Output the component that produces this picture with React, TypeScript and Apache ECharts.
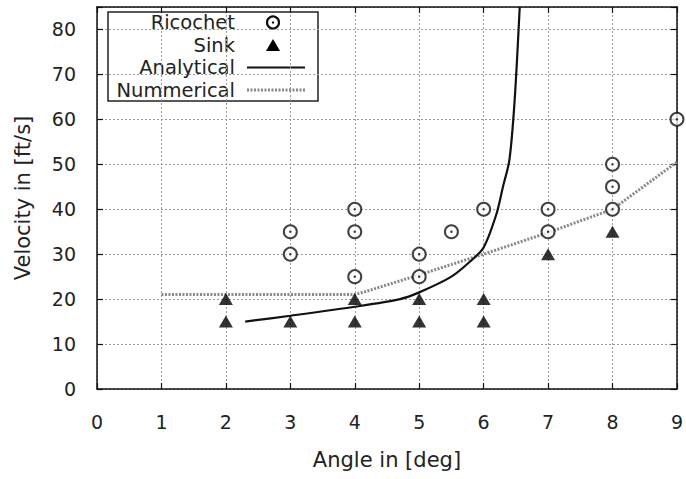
import React, { useEffect, useRef } from "react";
import * as echarts from "echarts";

const ricochetAngle = [3, 3, 4, 4, 4, 5, 5, 5.5, 6, 7, 7, 8, 8, 8, 9];
const ricochetVel = [35, 30, 40, 35, 25, 30, 25, 35, 40, 40, 35, 50, 45, 40, 60];
const sinkAngle = [2, 2, 3, 4, 4, 5, 5, 6, 6, 7, 8];
const sinkVel = [20, 15, 15, 20, 15, 20, 15, 20, 15, 30, 35];
const analyticalAngle = [2.3, 3, 4, 4.7, 5, 5.5, 5.8, 6, 6.2, 6.3, 6.4, 6.48, 6.56];
const analyticalVel = [15, 16.3, 18.3, 20, 21.5, 25, 28.5, 31.5, 39, 45, 51, 64, 85];
const numericalAngle = [1, 4, 4.15, 5, 6, 7, 8, 9];
const numericalVel = [21, 21, 21.6, 25.4, 30, 34.8, 40, 50.5];
const xTicks = [0, 1, 2, 3, 4, 5, 6, 7, 8, 9];
const yTicks = [0, 10, 20, 30, 40, 50, 60, 70, 80];
const legendNames = ["Ricochet", "Sink", "Analytical", "Nummerical"];

const FONT = "DejaVu Sans";

export default function App() {
  const ref = useRef<HTMLDivElement>(null);
  useEffect(() => {
    if (!ref.current) return;
    const chart = echarts.init(ref.current, null, { renderer: "svg" });
    const zip = (a: number[], b: number[]) => a.map((v, i) => [v, b[i]]);
    const axisCommon = {
      type: "value" as const,
      axisLine: { show: true, onZero: false, lineStyle: { color: "#111", width: 1.5 } },
      axisTick: { show: true, inside: true, length: 6, lineStyle: { color: "#111", width: 1.2 } },
    };
    const lx = 108, ly = 12;
    const rows = [22.5, 45, 67.5, 90];
    chart.setOption({
      animation: false,
      backgroundColor: "#fff",
      grid: { left: 97, right: 8, top: 7, bottom: 90, show: false },
      xAxis: [
        {
          ...axisCommon,
          position: "bottom",
          min: xTicks[0],
          max: xTicks[xTicks.length - 1],
          interval: 1,
          name: "Angle in [deg]",
          nameLocation: "middle",
          nameGap: 60,
          nameTextStyle: { fontFamily: FONT, fontSize: 21, color: "#222" },
          axisLabel: { fontFamily: FONT, fontSize: 19, color: "#222", margin: 23 },
          splitLine: { show: true, lineStyle: { color: "#999", type: [2, 2], width: 1 } },
        },
        {
          ...axisCommon,
          position: "top",
          min: xTicks[0],
          max: xTicks[xTicks.length - 1],
          interval: 1,
          axisLabel: { show: false },
          splitLine: { show: false },
        },
      ],
      yAxis: [
        {
          ...axisCommon,
          position: "left",
          min: yTicks[0],
          max: 85,
          interval: 10,
          name: "Velocity in [ft/s]",
          nameLocation: "middle",
          nameGap: 64,
          nameTextStyle: { fontFamily: FONT, fontSize: 21, color: "#222" },
          axisLabel: {
            fontFamily: FONT,
            fontSize: 19,
            color: "#222",
            margin: 21,
            formatter: (v: number) => (yTicks.includes(v) ? String(v) : ""),
          },
          splitLine: { show: true, lineStyle: { color: "#999", type: [2, 2], width: 1 } },
        },
        {
          ...axisCommon,
          position: "right",
          min: yTicks[0],
          max: 85,
          interval: 10,
          axisLabel: { show: false },
          splitLine: { show: false },
        },
      ],
      series: [
        {
          name: legendNames[3],
          type: "line",
          data: zip(numericalAngle, numericalVel),
          showSymbol: false,
          lineStyle: { color: "#888", width: 3, type: [2, 1.5] },
          z: 2,
        },
        {
          name: legendNames[2],
          type: "line",
          data: zip(analyticalAngle, analyticalVel),
          showSymbol: false,
          smooth: 0.3,
          lineStyle: { color: "#111", width: 2.2 },
          z: 3,
        },
        {
          name: legendNames[0],
          type: "scatter",
          data: zip(ricochetAngle, ricochetVel),
          symbol: "emptyCircle",
          symbolSize: 13,
          itemStyle: { color: "#111", borderColor: "#111", borderWidth: 2.2 },
          z: 4,
        },
        {
          name: legendNames[0] + " centre",
          type: "scatter",
          data: zip(ricochetAngle, ricochetVel),
          symbol: "circle",
          symbolSize: 2.5,
          itemStyle: { color: "#111" },
          z: 5,
        },
        {
          name: legendNames[1],
          type: "scatter",
          data: zip(sinkAngle, sinkVel),
          symbol: "triangle",
          symbolSize: [14, 12],
          itemStyle: { color: "#000" },
          z: 4,
        },
      ],
      graphic: [
        {
          type: "group",
          z: 100,
          children: [
            {
              type: "rect",
              shape: { x: lx, y: ly, width: 210, height: 89 },
              style: { fill: "#fff", stroke: "#222", lineWidth: 1.5 },
            },
            ...legendNames.map((n, i) => ({
              type: "text",
              x: 235,
              y: rows[i],
              style: {
                text: n,
                fontFamily: FONT,
                fontSize: 19.5,
                lineHeight: 20,
                fill: "#222",
                align: "right",
                verticalAlign: "middle",
              },
            })),
            {
              type: "circle",
              shape: { cx: 273, cy: rows[0], r: 6 },
              style: { fill: "none", stroke: "#111", lineWidth: 2.2 },
            },
            {
              type: "circle",
              shape: { cx: 273, cy: rows[0], r: 1.2 },
              style: { fill: "#111" },
            },
            {
              type: "polygon",
              shape: { points: [[273, rows[1] - 6], [266, rows[1] + 6], [280, rows[1] + 6]] },
              style: { fill: "#000" },
            },
            {
              type: "line",
              shape: { x1: 247, y1: rows[2], x2: 305, y2: rows[2] },
              style: { stroke: "#111", lineWidth: 2.2 },
            },
            {
              type: "line",
              shape: { x1: 247, y1: rows[3], x2: 305, y2: rows[3] },
              style: { stroke: "#888", lineWidth: 3, lineDash: [2, 1.5] },
            },
          ],
        },
      ],
    });
    return () => chart.dispose();
  }, []);
  return (
    <div
      ref={ref}
      style={{ position: "fixed", left: 0, top: 0, width: 686, height: 479 }}
    />
  );
}
